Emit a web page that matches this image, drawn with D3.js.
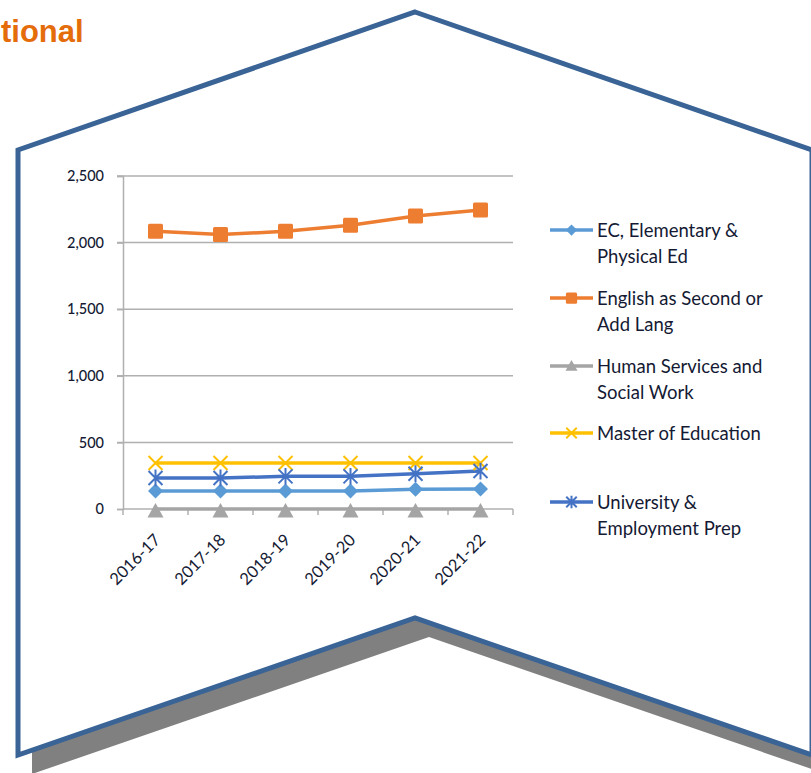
<!DOCTYPE html>
<html>
<head>
<meta charset="utf-8">
<script src="https://cdn.jsdelivr.net/npm/d3@7"></script>
<style>
  body { margin: 0; background: #fff; }
  svg { display: block; }
</style>
</head>
<body>
<svg id="chart"></svg>
<script>
const years = ["2016-17", "2017-18", "2018-19", "2019-20", "2020-21", "2021-22"];
const ecElementary = [135, 135, 135, 135, 148, 150];
const englishSecond = [2085, 2060, 2085, 2130, 2200, 2245];
const humanServices = [0, 0, 0, 0, 0, 0];
const masterEd = [345, 345, 345, 345, 345, 345];
const universityPrep = [233, 233, 245, 245, 265, 285];
const yTicks = [0, 500, 1000, 1500, 2000, 2500];

const series = [
    { name: ["EC, Elementary &", "Physical Ed"], values: ecElementary, color: "#5B9BD5", marker: "diamond" },
    { name: ["English as Second or", "Add Lang"], values: englishSecond, color: "#ED7D31", marker: "square" },
    { name: ["Human Services and", "Social Work"], values: humanServices, color: "#A5A5A5", marker: "triangle" },
    { name: ["Master of Education"], values: masterEd, color: "#FFC000", marker: "x" },
    { name: ["University &", "Employment Prep"], values: universityPrep, color: "#4472C4", marker: "star" }
];

const width = 811;
const height = 773;
const plot = { left: 123, right: 513, top: 176, bottom: 509 };

const svg = d3.select("#chart")
    .attr("width", width)
    .attr("height", height);

// frame shape with its drop shadow
const frame = [[415, 12], [812, 150], [812, 755], [415, 618], [18, 755], [18, 150]];
const shadowOff = [14, 19];

svg.append("polygon")
    .attr("points", frame.map(p => [p[0] + shadowOff[0], p[1] + shadowOff[1]].join(",")).join(" "))
    .attr("fill", "#808080");

svg.append("polygon")
    .attr("points", frame.map(p => p.join(",")).join(" "))
    .attr("fill", "#fff")
    .attr("stroke", "#3A6396")
    .attr("stroke-width", 5)
    .attr("stroke-linejoin", "miter");

svg.append("text")
    .attr("x", 1)
    .attr("y", 42)
    .attr("font-family", "Liberation Sans, Arial, sans-serif")
    .attr("font-weight", "bold")
    .attr("font-size", 31)
    .attr("fill", "#E46C0A")
    .text("tional");

const xScale = d3.scalePoint()
    .domain(years)
    .range([plot.left, plot.right])
    .padding(0.5);

const yScale = d3.scaleLinear()
    .domain([0, 2500])
    .range([plot.bottom, plot.top]);

const gridColor = "#B0B0B0";
const font = "Lato, 'Open Sans', sans-serif";
const textColor = "#141a33";

// gridlines
svg.append("g")
    .selectAll("line")
    .data(yTicks.filter(d => d > 0))
    .join("line")
    .attr("x1", plot.left - 6)
    .attr("x2", plot.right)
    .attr("y1", d => yScale(d))
    .attr("y2", d => yScale(d))
    .attr("stroke", gridColor)
    .attr("stroke-width", 1.5);

// y axis
const yAxis = d3.axisLeft(yScale)
    .tickValues(yTicks)
    .tickFormat(d3.format(","))
    .tickSize(6)
    .tickPadding(13);

const yG = svg.append("g")
    .attr("transform", `translate(${plot.left},0)`)
    .call(yAxis);
yG.select(".domain").attr("stroke", gridColor).attr("stroke-width", 1.5);
yG.selectAll(".tick line").attr("stroke", gridColor).attr("stroke-width", 1.5);
yG.selectAll("text")
    .attr("font-family", font)
    .attr("font-size", 14.5)
    .attr("font-weight", 500)
    .attr("fill", textColor);

// x axis
const step = xScale.step();
const xBounds = d3.range(years.length + 1).map(i => plot.left + i * step);

svg.append("line")
    .attr("x1", plot.left)
    .attr("x2", plot.right)
    .attr("y1", plot.bottom)
    .attr("y2", plot.bottom)
    .attr("stroke", gridColor)
    .attr("stroke-width", 1.5);

svg.append("g")
    .selectAll("line")
    .data(xBounds)
    .join("line")
    .attr("x1", d => d)
    .attr("x2", d => d)
    .attr("y1", plot.bottom)
    .attr("y2", plot.bottom + 6)
    .attr("stroke", gridColor)
    .attr("stroke-width", 1.5);

svg.append("g")
    .selectAll("text")
    .data(years)
    .join("text")
    .attr("transform", d => `translate(${xScale(d) + 6},${plot.bottom + 32}) rotate(-45)`)
    .attr("text-anchor", "end")
    .attr("font-family", font)
    .attr("font-size", 16.5)
    .attr("fill", textColor)
    .text(d => d);

// markers
function drawMarker(g, type, color, s) {
    if (type === "diamond") {
        g.append("path").attr("d", `M0,${-s}L${s},0L0,${s}L${-s},0Z`).attr("fill", color);
    } else if (type === "square") {
        g.append("rect").attr("x", -s).attr("y", -s).attr("width", 2 * s).attr("height", 2 * s)
            .attr("rx", 1.5).attr("fill", color);
    } else if (type === "triangle") {
        g.append("path").attr("d", `M0,${-s}L${s},${s * 0.8}L${-s},${s * 0.8}Z`).attr("fill", color);
    } else if (type === "x") {
        g.append("path").attr("d", `M${-s},${-s}L${s},${s}M${s},${-s}L${-s},${s}`)
            .attr("stroke", color).attr("stroke-width", 2);
    } else if (type === "star") {
        g.append("path").attr("d", `M${-s},${-s}L${s},${s}M${s},${-s}L${-s},${s}M0,${-s * 1.2}L0,${s * 1.2}`)
            .attr("stroke", color).attr("stroke-width", 2);
    }
}

const line = d3.line()
    .x((d, i) => xScale(years[i]))
    .y(d => yScale(d));

const markerSize = { diamond: 7.5, square: 7.5, triangle: 8, x: 7, star: 7 };

series.forEach(s => {
    svg.append("path")
        .datum(s.values)
        .attr("d", line)
        .attr("fill", "none")
        .attr("stroke", s.color)
        .attr("stroke-width", 3.5);
});

series.forEach(s => {
    s.values.forEach((v, i) => {
        const g = svg.append("g")
            .attr("transform", `translate(${xScale(years[i])},${yScale(v) + (s.marker === "triangle" ? 2 : 0)})`);
        drawMarker(g, s.marker, s.color, markerSize[s.marker]);
    });
});

// legend
const legendX = 550;
const legendRows = [230, 298, 366, 433, 502];

series.forEach((s, i) => {
    const y = legendRows[i];
    svg.append("line")
        .attr("x1", legendX)
        .attr("x2", legendX + 43)
        .attr("y1", y)
        .attr("y2", y)
        .attr("stroke", s.color)
        .attr("stroke-width", 3.5);
    const g = svg.append("g").attr("transform", `translate(${legendX + 21.5},${y})`);
    drawMarker(g, s.marker, s.color, markerSize[s.marker] * 0.75);

    const t = svg.append("text")
        .attr("x", legendX + 47)
        .attr("y", y + 7)
        .attr("font-family", font)
        .attr("font-size", 18.5)
        .attr("fill", textColor);
    s.name.forEach((n, j) => {
        t.append("tspan")
            .attr("x", legendX + 47)
            .attr("dy", j === 0 ? 0 : 25.5)
            .text(n);
    });
});
</script>
</body>
</html>
